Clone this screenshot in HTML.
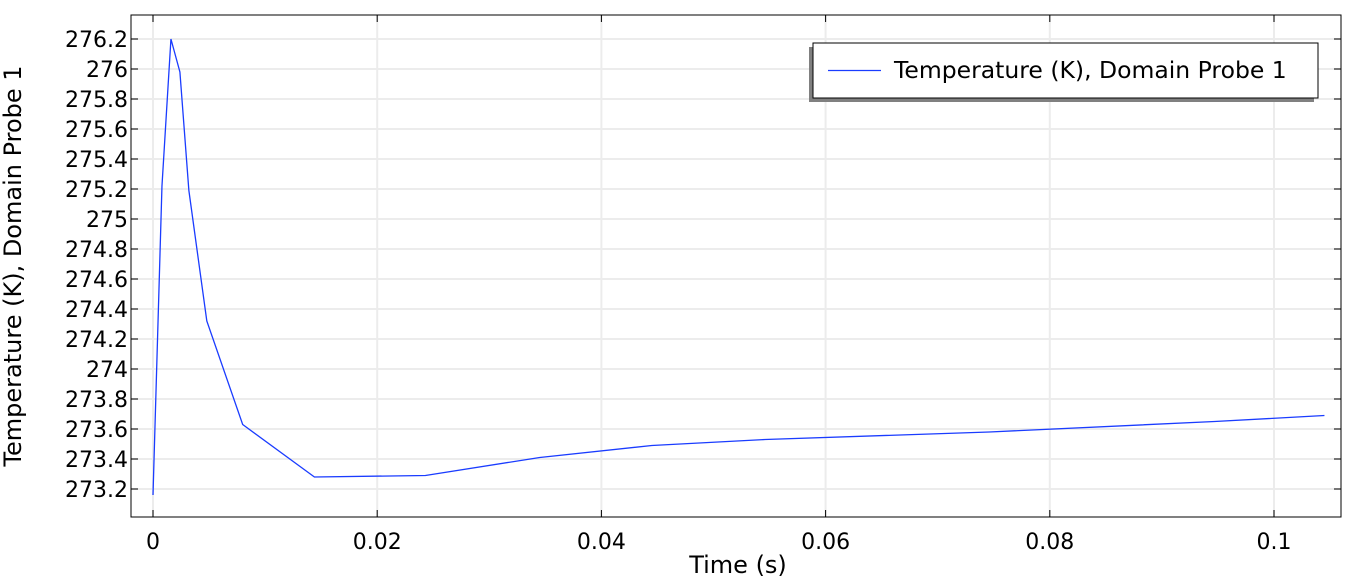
<!DOCTYPE html>
<html><head><meta charset="utf-8"><style>
body{margin:0;background:#fff;}
svg{display:block;font-family:"DejaVu Sans","Liberation Sans",sans-serif;}
</style></head><body>
<svg id="chart" width="1348" height="582"></svg>
<script>
const times=[0,0.0008,0.0016,0.0024,0.0032,0.0048,0.0080,0.0144,0.0243,0.0345,0.0445,0.0546,0.0746,0.0947,0.1045];
const temps=[273.16,275.22,276.2,275.98,275.19,274.32,273.63,273.28,273.29,273.41,273.49,273.53,273.58,273.65,273.69];
const yTicks=[273.2,273.4,273.6,273.8,274,274.2,274.4,274.6,274.8,275,275.2,275.4,275.6,275.8,276,276.2];
const xTicks=[0,0.02,0.04,0.06,0.08,0.1];
const xTickLabels=["0","0.02","0.04","0.06","0.08","0.1"];
const NS="http://www.w3.org/2000/svg";
const svg=document.getElementById('chart');
const L=131,R=1341,T=15,B=517;
const xs=v=>153+v*11210;
const ys=v=>489-(v-273.2)*150;
function mk(tag,attrs,parent){const e=document.createElementNS(NS,tag);for(const k in attrs)e.setAttribute(k,attrs[k]);(parent||svg).appendChild(e);return e;}
const grid=mk('g',{});


yTicks.forEach(t=>{const y=ys(t);
mk('line',{x1:L,x2:R,y1:y,y2:y,stroke:'#ececec','stroke-width':2},grid);
mk('line',{x1:L,x2:L+7,y1:y,y2:y,stroke:'#000'},grid);
mk('line',{x1:R-7,x2:R,y1:y,y2:y,stroke:'#000'},grid);
const lb=mk('text',{x:L-3,y:y+8,'text-anchor':'end','font-size':22,fill:'#000'});


lb.textContent=String(t);});
xTicks.forEach((t,i)=>{const x=xs(t);
mk('line',{x1:x,x2:x,y1:T,y2:B,stroke:'#ececec','stroke-width':2},grid);
mk('line',{x1:x,x2:x,y1:B-7,y2:B,stroke:'#000'},grid);
mk('line',{x1:x,x2:x,y1:T,y2:T+7,stroke:'#000'},grid);
const lb=mk('text',{x:x,y:549,'text-anchor':'middle','font-size':22,fill:'#000'});


lb.textContent=xTickLabels[i];});
const frame=mk('rect',{x:L,y:T,width:R-L,height:B-T,fill:'none',stroke:'#000'});


const line=mk('polyline',{points:times.map((t,i)=>xs(t)+','+ys(temps[i])).join(' '),fill:'none',stroke:'#1a3cff','stroke-width':1.3});


const xt=mk('text',{x:738,y:573,'text-anchor':'middle','font-size':24,fill:'#000'});


xt.textContent='Time (s)';
const yt=mk('text',{x:0,y:0,'text-anchor':'middle','font-size':24,fill:'#000',transform:'translate(21,266) rotate(-90)'});


yt.textContent='Temperature (K), Domain Probe 1';
const lg=mk('g',{});


mk('rect',{x:809,y:47,width:505,height:55,fill:'#808080'},lg);
mk('rect',{x:813,y:43,width:505,height:55,fill:'#fff',stroke:'#000'},lg);
mk('line',{x1:828,x2:881,y1:70.5,y2:70.5,stroke:'#1a3cff','stroke-width':1.3},lg);
const lt=mk('text',{x:894,y:78,'font-size':23.5,fill:'#000'},lg);


lt.textContent='Temperature (K), Domain Probe 1';
</script>
</body></html>
